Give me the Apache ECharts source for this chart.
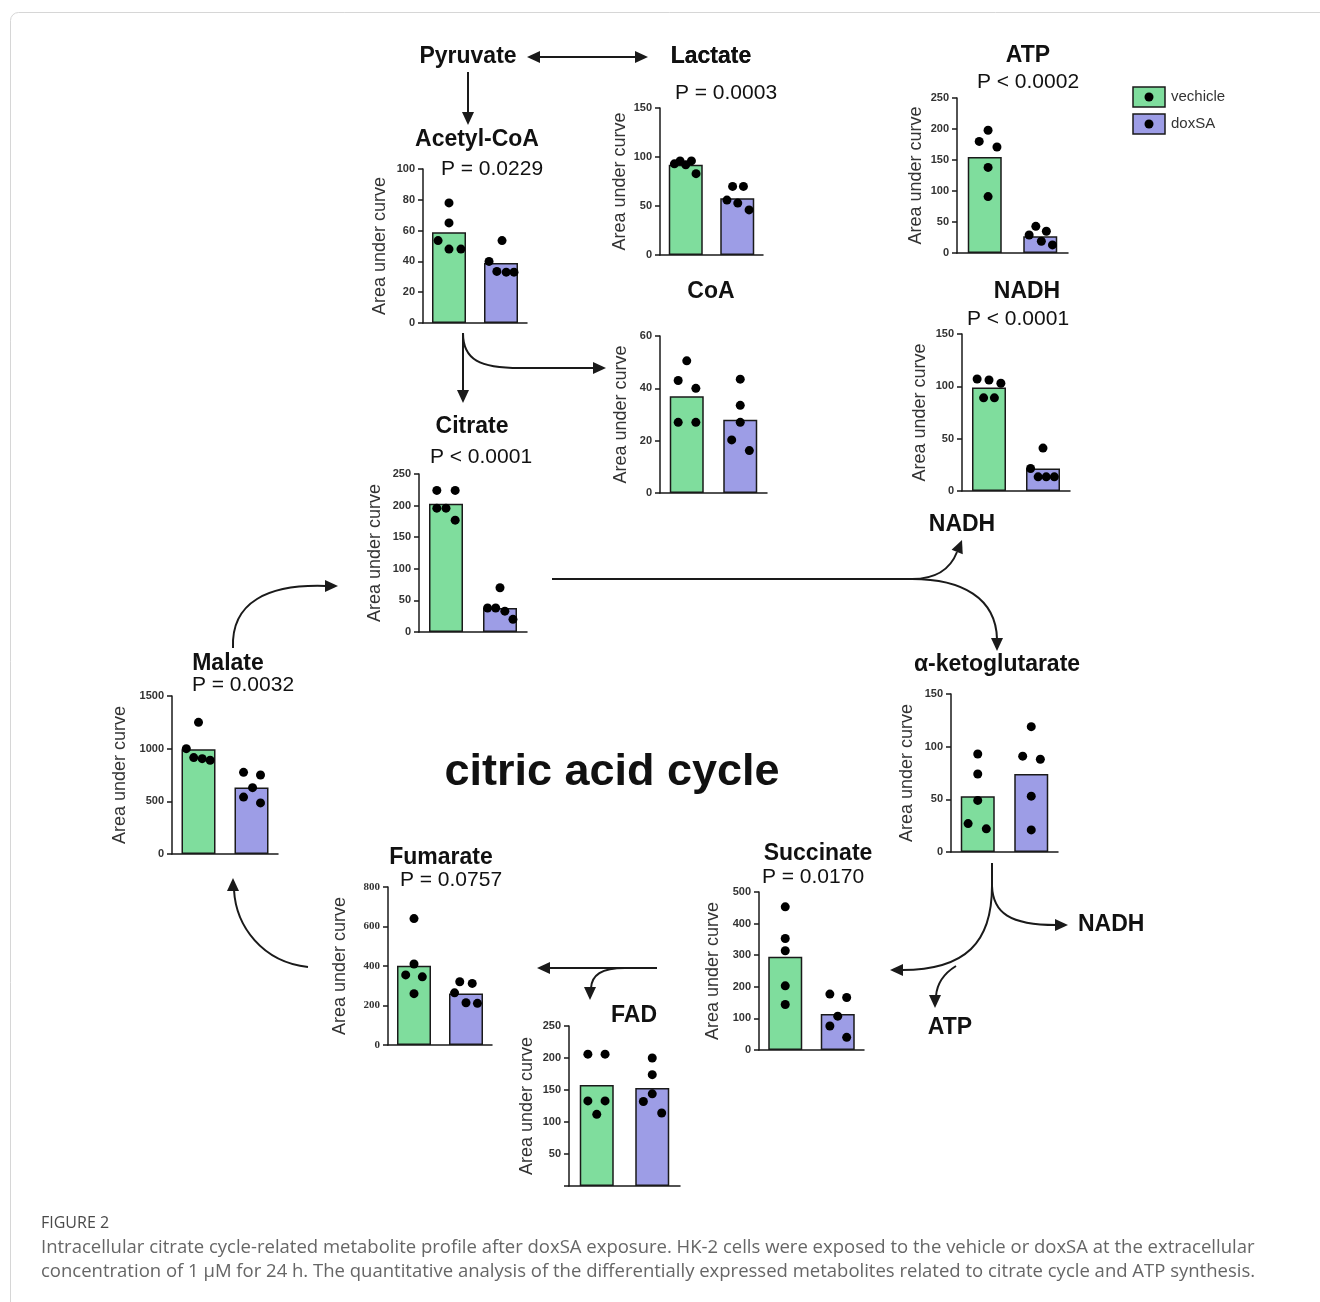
<!DOCTYPE html>
<html>
<head>
<meta charset="utf-8">
<script src="https://cdn.jsdelivr.net/npm/echarts@6/dist/echarts.min.js"></script>
<style>
  html, body { margin: 0; padding: 0; background: #fff; }
  #chart { width: 1320px; height: 1302px; }
</style>
</head>
<body>
<div id="chart"></div>
<script>
// ---- data -------------------------------------------------------------
const metabolites = ['Acetyl-CoA', 'Lactate', 'ATP', 'CoA', 'NADH', 'Citrate',
  'Malate', 'α-ketoglutarate', 'Fumarate', 'Succinate', 'FAD'];
const groups = ['vechicle', 'doxSA'];
const pLabels = ['P = 0.0229', 'P = 0.0003', 'P < 0.0002', '', 'P < 0.0001', 'P < 0.0001',
  'P = 0.0032', '', 'P = 0.0757', 'P = 0.0170', ''];

// y-axis range per metabolite
const axisMax = [100, 150, 250, 60, 150, 250, 1500, 150, 800, 500, 250];
const axisStep = [20, 50, 50, 20, 50, 50, 500, 50, 200, 100, 50];

// group means (bar heights), area under curve
const vehicleMean = [59, 92, 155, 37, 99, 203, 995, 53, 401, 295, 158];
const doxsaMean = [39, 58, 27, 28, 21.5, 38, 632, 74, 261, 114, 153];

// individual replicates
const vehicleDots = [
  [53.5, 78, 65, 48, 48],
  [93, 96, 92, 96, 83],
  [180, 198, 171, 138, 91],
  [43, 50.5, 40, 27, 27],
  [107, 106, 103, 89, 89],
  [224, 224, 196, 196, 177],
  [1000, 1250, 915, 905, 890],
  [93, 74, 49, 27, 22],
  [640, 410, 355, 345, 260],
  [453, 353, 314, 203, 144],
  [206, 206, 133, 133, 112]
];
const doxsaDots = [
  [40, 53.5, 33.5, 33, 33],
  [56, 70, 53, 70, 46],
  [29, 43, 19, 35, 13],
  [43.5, 33.5, 27, 20.3, 16.2],
  [21.5, 41, 13.5, 13.5, 13.5],
  [70, 38, 38, 33, 20],
  [775, 750, 630, 540, 485],
  [119, 91, 88, 53, 21],
  [320, 312, 264, 214, 211],
  [177, 166, 107, 76, 40],
  [200, 174, 144, 132, 114]
];
// horizontal spread of replicates within a bar (fraction of a category)
const vehicleJitter = [
  [-0.21, 0, 0, 0, 0.23],
  [-0.22, -0.11, 0, 0.11, 0.2],
  [-0.1, 0.06, 0.22, 0.06, 0.06],
  [-0.16, 0, 0.17, -0.16, 0.17],
  [-0.22, 0, 0.22, -0.1, 0.1],
  [-0.17, 0.17, -0.17, 0, 0.17],
  [-0.23, 0, -0.09, 0.07, 0.22],
  [0, 0, 0, -0.18, 0.16],
  [0, 0, -0.16, 0.16, 0],
  [0, 0, 0, 0, 0],
  [-0.16, 0.15, -0.16, 0.15, 0]
];
const doxsaJitter = [
  [-0.23, 0.02, -0.08, 0.1, 0.25],
  [-0.2, -0.09, 0.01, 0.12, 0.23],
  [-0.2, -0.08, 0.02, 0.11, 0.22],
  [0, 0, 0, -0.16, 0.17],
  [-0.23, 0, -0.09, 0.06, 0.21],
  [0, -0.23, -0.08, 0.09, 0.24],
  [-0.15, 0.17, 0.02, -0.15, 0.17],
  [0, -0.16, 0.17, 0, 0],
  [-0.12, 0.12, -0.22, 0, 0.22],
  [-0.15, 0.17, 0, -0.15, 0.17],
  [0, 0, 0, -0.16, 0.17]
];

// ---- layout -------------------------------------------------------------
const GREEN = '#7fdd9d';
const PURPLE = '#9d9de6';
const INK = '#1a1a1a';
const SANS = '"Liberation Sans", Arial, Helvetica, sans-serif';
const CAPTION_FONT = '"Open Sans", "Noto Sans", sans-serif';

// plot box, y-name gap, title and p-value anchors for each small panel
const panelBoxes = [
  { left: 423, top: 169, width: 104, height: 154, gap: 34, title: [477, 140], p: [492, 169] },
  { left: 660, top: 108, width: 103, height: 147, gap: 31, title: [711, 57], p: [726, 93] },
  { left: 957, top: 98, width: 111, height: 155, gap: 32, title: [1028, 56], p: [1028, 82] },
  { left: 660, top: 336, width: 107, height: 157, gap: 30, title: [711, 292], p: null },
  { left: 962, top: 334, width: 108, height: 157, gap: 33, title: [1027, 292], p: [1018, 319] },
  { left: 419, top: 474, width: 108, height: 158, gap: 35, title: [472, 427], p: [481, 457] },
  { left: 172, top: 696, width: 106, height: 158, gap: 43, title: [228, 664], p: [243, 685] },
  { left: 951, top: 694, width: 107, height: 158, gap: 35, title: [997, 665], p: null },
  { left: 388, top: 887, width: 104, height: 158, gap: 39, title: [441, 858], p: [451, 880], serif: true },
  { left: 759, top: 892, width: 105, height: 158, gap: 37, title: [818, 854], p: [813, 877] },
  { left: 569, top: 1026, width: 111, height: 160, gap: 33, title: [634, 1016], p: null, hideZero: true }
];

const grid = [], xAxis = [], yAxis = [], series = [];

metabolites.forEach((name, i) => {
  const b = panelBoxes[i];
  grid.push({ left: b.left, top: b.top, width: b.width, height: b.height });
  xAxis.push({
    type: 'category', gridIndex: i, data: groups,
    axisLine: { onZero: false, lineStyle: { color: INK, width: 1.5 } },
    axisTick: { show: false }, axisLabel: { show: false }
  });
  xAxis.push({ type: 'value', gridIndex: i, min: -0.5, max: 1.5, show: false });
  yAxis.push({
    type: 'value', gridIndex: i, min: 0, max: axisMax[i], interval: axisStep[i],
    axisLine: { show: true, onZero: false, lineStyle: { color: INK, width: 1.5 } },
    axisTick: { show: true, length: 5, lineStyle: { color: INK, width: 1.5 } },
    splitLine: { show: false },
    axisLabel: {
      fontSize: 11, fontWeight: 'bold', color: '#333', margin: 8,
      fontFamily: b.serif ? '"Liberation Serif", "DejaVu Serif", serif' : SANS,
      formatter: v => (b.hideZero && v === 0) ? '' : String(v)
    },
    name: 'Area under curve', nameLocation: 'middle', nameGap: b.gap, nameRotate: 90,
    nameTextStyle: { fontSize: 18, color: '#333', fontFamily: SANS }
  });
  series.push({
    type: 'bar', name: name, xAxisIndex: 2 * i, yAxisIndex: i, barWidth: 34, silent: true,
    itemStyle: { borderColor: INK, borderWidth: 1.5 },
    data: [
      { value: vehicleMean[i], itemStyle: { color: GREEN } },
      { value: doxsaMean[i], itemStyle: { color: PURPLE } }
    ]
  });
  const pts = vehicleDots[i].map((v, k) => [vehicleJitter[i][k], v])
    .concat(doxsaDots[i].map((v, k) => [1 + doxsaJitter[i][k], v]));
  series.push({
    type: 'scatter', name: name + ' replicates', xAxisIndex: 2 * i + 1, yAxisIndex: i,
    symbolSize: 9, silent: true, itemStyle: { color: '#000', opacity: 1 }, data: pts
  });
});

// ---- pathway drawing helpers -------------------------------------------
function label(text, x, y, size, weight, align, color) {
  return {
    type: 'text', x: x, y: y, z: 10,
    style: {
      text: text, font: `${weight} ${size}px ${SANS}`, fill: color || '#111',
      align: align || 'center', verticalAlign: 'middle'
    }
  };
}
function seg(x1, y1, x2, y2) {
  return { type: 'line', z: 10, shape: { x1, y1, x2, y2 }, style: { stroke: INK, lineWidth: 2 } };
}
function curve(x1, y1, cpx1, cpy1, cpx2, cpy2, x2, y2) {
  return {
    type: 'bezierCurve', z: 10, shape: { x1, y1, cpx1, cpy1, cpx2, cpy2, x2, y2 },
    style: { stroke: INK, lineWidth: 2, fill: null }
  };
}
function head(tx, ty, dx, dy) {
  const L = 13, W = 6, n = Math.hypot(dx, dy), ux = dx / n, uy = dy / n;
  const bx = tx - ux * L, by = ty - uy * L;
  return {
    type: 'polygon', z: 10,
    shape: { points: [[tx, ty], [bx - uy * W, by + ux * W], [bx + uy * W, by - ux * W]] },
    style: { fill: INK }
  };
}
function caption(text, y, size, color) {
  return {
    type: 'text', x: 41, y: y, z: 10,
    style: { text: text, font: `${size}px ${CAPTION_FONT}`, fill: color, align: 'left', verticalAlign: 'middle' }
  };
}

const graphic = [
  // figure frame
  { type: 'rect', z: 0, shape: { x: 10.5, y: 12.5, width: 1400, height: 1400, r: 8 },
    style: { fill: null, stroke: '#d6d6d6', lineWidth: 1 } },

  // pyruvate / lactate / acetyl-CoA
  label('Pyruvate', 468, 57, 23, 'bold'),
  label('Lactate', 711, 57, 23, 'bold'),
  seg(538, 57, 637, 57), head(527, 57, -1, 0), head(648, 57, 1, 0),
  seg(468, 72, 468, 113), head(468, 125, 0, 1),

  // acetyl-CoA -> citrate, CoA release
  seg(463, 333, 463, 391), head(463, 403, 0, 1),
  curve(463, 333, 463, 360, 480, 368, 520, 368), seg(520, 368, 594, 368), head(606, 368, 1, 0),

  // citrate -> α-ketoglutarate with NADH
  seg(552, 579, 912, 579),
  curve(912, 579, 936, 579, 950, 570, 957, 552), head(962, 540, 0.4, -1),
  curve(912, 579, 962, 579, 996, 598, 997, 639), head(997, 651, 0, 1),
  label('NADH', 962, 525, 23, 'bold'),

  // malate -> citrate
  curve(233, 648, 231, 602, 268, 584, 326, 586), head(338, 586, 1, 0),

  // α-ketoglutarate -> succinate with NADH and ATP
  seg(992, 863, 992, 886),
  curve(992, 886, 993, 913, 1010, 925, 1056, 925), head(1068, 925, 1, 0),
  label('NADH', 1078, 925, 23, 'bold', 'left'),
  curve(992, 886, 992, 942, 966, 970, 902, 970), head(890, 970, -1, 0),
  curve(956, 966, 943, 974, 937, 984, 936, 996), head(935, 1008, 0, 1),
  label('ATP', 950, 1028, 23, 'bold'),

  // succinate -> fumarate with FAD
  seg(657, 968, 549, 968), head(537, 968, -1, 0),
  curve(625, 968, 601, 968, 592, 975, 591, 988), head(590, 1000, 0, 1),

  // fumarate -> malate
  curve(308, 967, 262, 962, 236, 926, 234, 890), head(233, 878, 0, -1),

  // centre label
  label('citric acid cycle', 612, 773, 45, 'bold'),

  // legend
  { type: 'rect', z: 10, shape: { x: 1133, y: 87, width: 32, height: 20 },
    style: { fill: GREEN, stroke: INK, lineWidth: 1.5 } },
  { type: 'circle', z: 11, shape: { cx: 1149, cy: 97, r: 4.5 }, style: { fill: '#000' } },
  label(groups[0], 1171, 97, 15, 'normal', 'left', '#333'),
  { type: 'rect', z: 10, shape: { x: 1133, y: 114, width: 32, height: 20 },
    style: { fill: PURPLE, stroke: INK, lineWidth: 1.5 } },
  { type: 'circle', z: 11, shape: { cx: 1149, cy: 124, r: 4.5 }, style: { fill: '#000' } },
  label(groups[1], 1171, 124, 15, 'normal', 'left', '#333'),

  // caption
  caption('FIGURE 2', 1223, 16, '#4a4a4a'),
  caption('Intracellular citrate cycle-related metabolite profile after doxSA exposure. HK-2 cells were exposed to the vehicle or doxSA at the extracellular', 1248, 18.5, '#666'),
  caption('concentration of 1 μM for 24 h. The quantitative analysis of the differentially expressed metabolites related to citrate cycle and ATP synthesis.', 1272, 18.5, '#666')
];

// titles and p-values of the panels
metabolites.forEach((name, i) => {
  const b = panelBoxes[i];
  graphic.push(label(name, b.title[0], b.title[1], 23, 'bold'));
  if (b.p) graphic.push(label(pLabels[i], b.p[0], b.p[1], 21, 'normal'));
});

const chart = echarts.init(document.getElementById('chart'), null, { renderer: 'canvas' });
chart.setOption({
  animation: false,
  backgroundColor: '#ffffff',
  grid: grid,
  xAxis: xAxis,
  yAxis: yAxis,
  series: series,
  graphic: graphic
});
</script>
</body>
</html>
